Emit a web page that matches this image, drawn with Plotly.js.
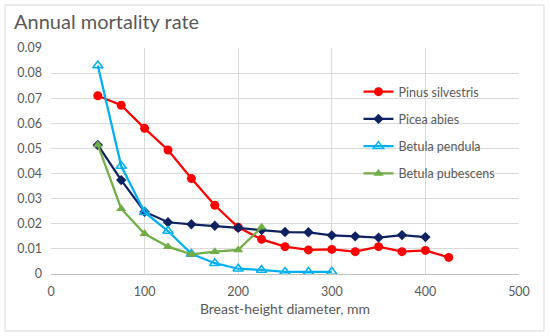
<!DOCTYPE html>
<html><head><meta charset="utf-8">
<script src="https://cdn.plot.ly/plotly-3.0.1.min.js"></script>
<style>html,body{margin:0;padding:0;background:#fff}#chart{width:550px;height:336px}</style>
</head><body><div id="chart"></div>
<script>
const pinusX = [50,75,100,125,150,175,200,225,250,275,300,325,350,375,400,425];
const pinusY = [0.071,0.0672,0.058,0.0494,0.038,0.0274,0.0186,0.0138,0.0109,0.0096,0.0098,0.0089,0.0109,0.0089,0.0094,0.0066];
const piceaX = [50,75,100,125,150,175,200,225,250,275,300,325,350,375,400];
const piceaY = [0.0514,0.0374,0.0248,0.0206,0.0198,0.0192,0.0184,0.0175,0.0167,0.0166,0.0154,0.015,0.0145,0.0155,0.0147];
const pendulaX = [50,75,100,125,150,175,200,225,250,275,300];
const pendulaY = [0.083,0.043,0.0246,0.0171,0.008,0.0043,0.0021,0.0016,0.0008,0.0008,0.0008];
const pubescensX = [50,75,100,125,150,175,200,225];
const pubescensY = [0.0514,0.026,0.016,0.0109,0.0078,0.0089,0.0096,0.0186];
const names = ["Pinus silvestris","Picea abies","Betula pendula","Betula pubescens"];
const yTickVals = [0,0.01,0.02,0.03,0.04,0.05,0.06,0.07,0.08,0.09];
const yTickText = ["0","0.01","0.02","0.03","0.04","0.05","0.06","0.07","0.08","0.09"];

const font = "Lato, 'Liberation Sans', sans-serif";
const gray = "#595959";
const traces = [
  {x:pinusX,y:pinusY,name:names[0],legendgroup:"a",mode:"lines+markers",
   line:{color:"#ff0000",width:2.25},marker:{symbol:"circle",size:9,color:"#ff0000"}},
  {x:piceaX,y:piceaY,name:names[1],legendgroup:"b",mode:"lines+markers",
   line:{color:"#0e2260",width:2.25},marker:{symbol:"diamond",size:8,color:"#0e2260"}},
  {x:pendulaX,y:pendulaY,name:names[2],legendgroup:"c",mode:"lines+markers",
   line:{color:"#00b0f0",width:2.25},marker:{symbol:"triangle-up-open",size:9,color:"#00b0f0",line:{width:1.5}}},
  {x:pubescensX,y:pubescensY,name:names[3],legendgroup:"d",mode:"lines+markers",
   line:{color:"#70ad47",width:2.25},marker:{symbol:"triangle-up",size:9,color:"#70ad47"}}
];
const layout = {
  width:550,height:336,
  margin:{l:51,r:31,t:48,b:62},
  paper_bgcolor:"#fff",plot_bgcolor:"#fff",
  font:{family:font,color:gray,size:12},
  title:{text:"Annual mortality rate",xref:"container",yref:"container",x:14/550,xanchor:"left",y:1-22/336,yanchor:"middle",
    font:{family:font,size:20,color:gray}},
  xaxis:{range:[0,500],dtick:100,tick0:0,showgrid:true,gridcolor:"#d9d9d9",gridwidth:1,
    zeroline:false,showline:true,linecolor:"#bfbfbf",linewidth:1,ticks:"",ticklabelstandoff:6,
    tickfont:{size:12.5,color:gray},
    title:{text:"Breast-height diameter, mm",font:{size:14,color:gray},standoff:6},automargin:false},
  yaxis:{range:[0,0.09],tickmode:"array",tickvals:yTickVals,ticktext:yTickText,showgrid:true,gridcolor:"#d9d9d9",gridwidth:1,
    zeroline:false,showline:false,ticks:"",ticklabelstandoff:8,
    tickfont:{size:12.5,color:gray},automargin:false},
  showlegend:true,
  legend:{x:0.657,y:(274-77)/226,xanchor:"left",yanchor:"top",bgcolor:"rgba(0,0,0,0)",
    traceorder:"grouped",tracegroupgap:8,font:{size:12.5,color:gray},itemwidth:30},
  shapes:[{type:"rect",xref:"paper",yref:"paper",x0:(5-51)/468,x1:(544-51)/468,y0:(274-331)/226,y1:(274-5)/226,
    line:{color:"#d9d9d9",width:1},fillcolor:"rgba(0,0,0,0)",layer:"below"}]
};
Plotly.newPlot("chart",traces,layout,{displayModeBar:false,staticPlot:true});
</script></body></html>
